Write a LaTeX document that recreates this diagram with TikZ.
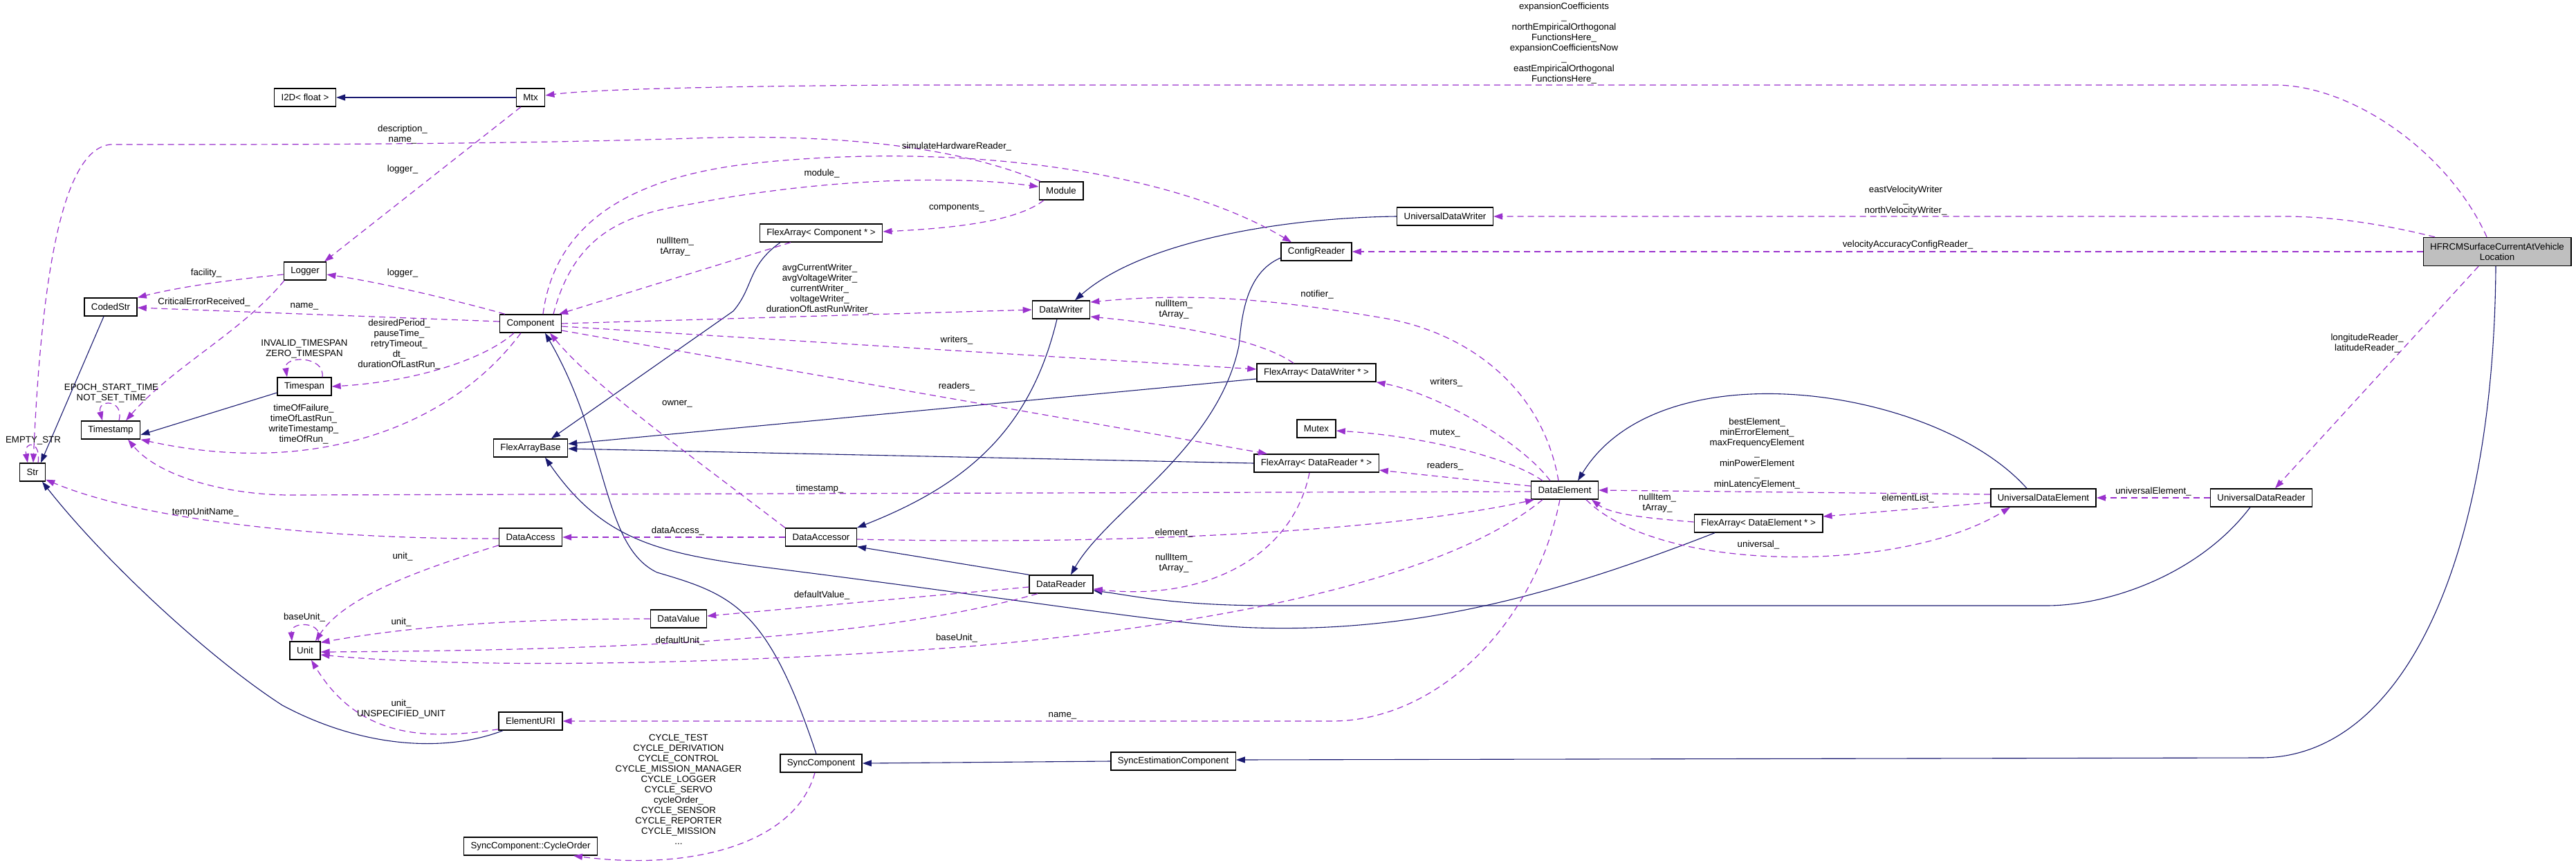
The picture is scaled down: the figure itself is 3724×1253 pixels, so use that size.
\documentclass[tikz,border=0pt]{standalone}
\usepackage{fontspec}
\setmainfont{Liberation Sans}
\usetikzlibrary{arrows.meta}
\definecolor{edgeblue}{HTML}{191970}
\definecolor{edgepurple}{HTML}{9A32CD}
\definecolor{boxgrey}{HTML}{BFBFBF}

\begin{document}
\begin{tikzpicture}[x=1pt, y=-1pt, font=\fontsize{13.3}{15}\selectfont,
  cls/.style={draw=black, line width=1.4pt, fill=white, minimum height=26pt,
              inner xsep=10pt, inner ysep=2pt, align=center},
  mlabel/.style={inner sep=0pt, align=center},
  inhline/.style={draw=edgeblue, line width=1.1pt, -{Triangle[length=13pt,width=9pt]}},
  memline/.style={draw=edgepurple, line width=1.2pt, dash pattern=on 9pt off 6pt,
                  -{Triangle[length=13pt,width=9pt]}}]
\path[fill=white, use as bounding box] (0,0) rectangle (3724,1253);

\node[cls, fill=boxgrey, minimum height=41pt] (hfrcm) at (3610,364) {HFRCMSurfaceCurrentAtVehicle\\Location};
\node[cls] (mtx) at (767,141) {Mtx};
\node[cls] (itwod) at (441,141) {I2D< float >};
\node[cls] (logger) at (441,392) {Logger};
\node[cls] (codedstr) at (160,444) {CodedStr};
\node[cls] (component) at (767,468) {Component};
\node[cls] (timespan) at (440,559) {Timespan};
\node[cls] (timestamp) at (160,622) {Timestamp};
\node[cls] (str) at (47,683) {Str};
\node[cls] (flexbase) at (767,648) {FlexArrayBase};
\node[cls] (dataaccess) at (767,777) {DataAccess};
\node[cls] (unit) at (441,941) {Unit};
\node[cls] (datavalue) at (981,895) {DataValue};
\node[cls] (elementuri) at (767,1043) {ElementURI};
\node[cls] (cycleorder) at (767,1224) {SyncComponent::CycleOrder};
\node[cls] (module) at (1534,276) {Module};
\node[cls] (facomp) at (1187,337) {FlexArray< Component * >};
\node[cls] (configreader) at (1903,364) {ConfigReader};
\node[cls] (datawriter) at (1534,448) {DataWriter};
\node[cls] (fawriter) at (1903,539) {FlexArray< DataWriter * >};
\node[cls] (mutex) at (1903,620) {Mutex};
\node[cls] (fareader) at (1903,670) {FlexArray< DataReader * >};
\node[cls] (dataaccessor) at (1187,777) {DataAccessor};
\node[cls] (datareader) at (1534,845) {DataReader};
\node[cls] (synccomp) at (1187,1104) {SyncComponent};
\node[cls] (syncest) at (1696,1101) {SyncEstimationComponent};
\node[cls] (uwriter) at (2089,313) {UniversalDataWriter};
\node[cls] (dataelement) at (2262,709) {DataElement};
\node[cls] (faelement) at (2542,757) {FlexArray< DataElement * >};
\node[cls] (uelement) at (2954,720) {UniversalDataElement};
\node[cls] (ureader) at (3269,720) {UniversalDataReader};

\draw[inhline] (mtx.west) -- (itwod.east);
\draw[inhline] ([xshift=-10pt]codedstr.south) -- ([xshift=12pt]str.north);
\draw[inhline] ([yshift=-9pt]timespan.west) -- ([yshift=-7pt]timestamp.east);
\draw[inhline] ([xshift=-59pt]facomp.south) .. controls (1080,385) and (1090,415) .. (1060,450) -- ([xshift=30pt]flexbase.north);
\draw[inhline] ([yshift=-9pt]fawriter.west) -- ([yshift=6pt]flexbase.east);
\draw[inhline] (fareader.west) -- ([yshift=-1pt]flexbase.east);
\draw[inhline] ([xshift=-40pt]elementuri.south) .. controls (640,1090) and (520,1080) .. (408,1020) .. controls (300,950) and (150,810) .. ([xshift=14pt]str.south);
\draw[inhline] ([xshift=-7pt]synccomp.north) .. controls (1110,880) and (1060,860) .. (950,828) .. controls (870,790) and (880,640) .. ([xshift=21pt]component.south);
\draw[inhline] ([xshift=-63pt]faelement.south) .. controls (2250,860) and (2050,915) .. (1816,908) .. controls (1700,905) and (1500,870) .. (1102,820) .. controls (950,800) and (870,780) .. ([xshift=21pt]flexbase.south);
\draw[inhline] ([xshift=-6pt]datawriter.south) .. controls (1490,620) and (1400,700) .. ([xshift=52pt]dataaccessor.north);
\draw[inhline] (datareader.north west) -- (dataaccessor.south east);
\draw[inhline] (uwriter.west) .. controls (1850,315) and (1650,350) .. ([xshift=20pt]datawriter.north);
\draw[inhline] ([yshift=-9pt]configreader.west) .. controls (1800,395) and (1795,460) .. (1791,500) .. controls (1760,650) and (1600,740) .. ([xshift=14pt]datareader.north);
\draw[inhline] ([xshift=-24pt]uelement.north) .. controls (2800,560) and (2400,500) .. ([xshift=19pt]dataelement.north);
\draw[inhline] ([xshift=-16pt]ureader.south) .. controls (3180,830) and (3050,876) .. (2958,876) -- (1840,876) .. controls (1700,876) and (1640,862) .. ([yshift=-9pt]datareader.east);
\draw[inhline] ([xshift=-2pt]hfrcm.south) .. controls (3605,820) and (3470,1096) .. (3268,1096) -- ([yshift=2pt]syncest.east);
\draw[inhline] (syncest.west) -- (synccomp.east);

\draw[memline] ([xshift=-15pt]hfrcm.north) .. controls (3540,220) and (3400,123) .. (3289,123) -- (1300,123) .. controls (1000,125) and (850,130) .. ([yshift=3pt]mtx.east);
\draw[memline] ([xshift=-90pt]hfrcm.north) .. controls (3420,318) and (3350,313) .. (3300,313) -- (uwriter.east);
\draw[memline] (hfrcm.west) -- (configreader.east);
\draw[memline] ([xshift=-27pt]hfrcm.south) -- ([xshift=20pt]ureader.north);
\draw[memline] (ureader.west) -- (uelement.east);
\draw[memline] ([yshift=5pt]uelement.west) -- (dataelement.east);
\draw[memline] ([yshift=-7pt]uelement.west) -- ([yshift=10pt]faelement.east);
\draw[memline] ([xshift=31pt]dataelement.south) .. controls (2400,830) and (2750,830) .. ([xshift=-48pt]uelement.south);
\draw[memline] ([yshift=2pt]faelement.west) .. controls (2390,750) and (2330,745) .. ([xshift=39pt]dataelement.south);
\draw[memline] ([xshift=-9pt]dataelement.north) .. controls (2230,560) and (2120,480) .. (2000,460) .. controls (1880,440) and (1750,420) .. ([yshift=11pt]datawriter.east);
\draw[memline] ([xshift=-33pt]fawriter.north) .. controls (1820,490) and (1700,470) .. ([yshift=-10pt]datawriter.east);
\draw[memline] ([xshift=-21pt]dataelement.north) .. controls (2200,640) and (2080,570) .. (fawriter.south east);
\draw[memline] ([xshift=-32pt]dataelement.north) .. controls (2180,660) and (2050,630) .. ([yshift=-3pt]mutex.east);
\draw[memline] ([yshift=6pt]dataelement.west) -- ([yshift=-10pt]fareader.east);
\draw[memline] ([yshift=-2pt]dataelement.west) -- (420,716) .. controls (330,716) and (230,690) .. ([xshift=25pt]timestamp.south);
\draw[memline] ([yshift=-3pt]dataaccessor.east) .. controls (1700,790) and (2050,760) .. ([xshift=-44pt]dataelement.south);
\draw[memline] ([xshift=-32pt]dataelement.south) .. controls (2100,830) and (1800,900) .. (1400,935) .. controls (1000,965) and (650,965) .. ([yshift=-6pt]unit.east);
\draw[memline] ([xshift=-7pt]dataelement.south) .. controls (2220,900) and (2080,1043) .. (1925,1043) -- (elementuri.east);
\draw[memline] ([yshift=-4pt]datareader.west) -- ([yshift=4pt]datavalue.east);
\draw[memline] ([xshift=-34pt]datareader.south) .. controls (1300,915) and (1000,940) .. ([yshift=-2pt]unit.east);
\draw[memline] (datavalue.west) .. controls (750,895) and (600,905) .. ([yshift=-2pt]unit.north east);
\draw[memline] ([yshift=2pt]dataaccess.south west) .. controls (620,820) and (500,860) .. ([xshift=15pt]unit.north);
\draw[memline] ([xshift=19pt]unit.north) .. controls (470,898) and (420,898) .. ([xshift=-19pt]unit.north);
\draw[memline] ([yshift=2pt]elementuri.south west) .. controls (620,1070) and (520,1070) .. ([xshift=9pt]unit.south);
\draw[memline] ([xshift=-9pt]synccomp.south) .. controls (1150,1220) and (1000,1260) .. ([xshift=62pt]cycleorder.south);
\draw[memline] (dataaccessor.west) -- (dataaccess.east);
\draw[memline] ([yshift=-2pt]dataaccess.west) .. controls (450,780) and (200,750) .. ([yshift=3pt]str.south east);
\draw[memline] (dataaccessor.north west) .. controls (1000,660) and (860,560) .. ([xshift=28pt]component.south);
\draw[memline] ([yshift=3pt]component.west) -- ([yshift=-1pt]codedstr.east);
\draw[memline] ([xshift=-37pt]component.north) .. controls (680,440) and (560,410) .. ([yshift=-5pt]logger.east);
\draw[memline] ([xshift=-24pt]component.south) .. controls (700,520) and (600,552) .. (timespan.east);
\draw[memline] ([xshift=-14pt]component.south) .. controls (650,620) and (450,690) .. (timestamp.south east);
\draw[memline] ([xshift=26pt]timespan.north) .. controls (470,514) and (410,514) .. ([xshift=-25pt]timespan.north);
\draw[memline] ([xshift=12pt]timestamp.north) .. controls (180,577) and (140,577) .. ([xshift=-12pt]timestamp.north);
\draw[memline] ([xshift=8pt]str.north) .. controls (60,637) and (34,637) .. ([xshift=-7pt]str.north);
\draw[memline] ([xshift=-30pt]module.north) .. controls (1380,210) and (1200,193) .. (1000,200) .. controls (700,210) and (300,209) .. (160,209) .. controls (90,215) and (60,400) .. ([xshift=1pt]str.north);
\draw[memline] ([xshift=18pt]component.north) .. controls (805,300) and (950,250) .. (1100,235) .. controls (1400,205) and (1700,250) .. ([xshift=-36pt]configreader.north);
\draw[memline] ([xshift=33pt]component.north) .. controls (830,340) and (900,310) .. (1000,295) .. controls (1150,265) and (1350,250) .. ([yshift=6pt]module.west);
\draw[memline] ([xshift=-25pt]module.south) .. controls (1470,320) and (1380,330) .. ([yshift=2pt]facomp.east);
\draw[memline] ([xshift=-44pt]facomp.south) -- ([xshift=41pt]component.north);
\draw[memline] (component.east) -- (datawriter.west);
\draw[memline] ([yshift=-4pt]component.east) -- ([yshift=5pt]fawriter.west);
\draw[memline] ([yshift=-10pt]component.east) -- ([xshift=-71pt]fareader.north);
\draw[memline] ([xshift=-10pt]fareader.south) .. controls (1870,800) and (1750,870) .. ([yshift=-7pt]datareader.east);
\draw[memline] ([yshift=-5pt]logger.west) .. controls (330,405) and (260,415) .. (codedstr.north east);
\draw[memline] ([xshift=-30pt]logger.south) .. controls (350,480) and (250,530) .. ([xshift=22pt]timestamp.north);
\draw[memline] ([xshift=-14pt]mtx.south) -- ([xshift=28pt]logger.north);

\node[mlabel] (lcoef) at (2261,63) {expansionCoefficients\\\_\\northEmpiricalOrthogonal\\FunctionsHere\_\\expansionCoefficientsNow\\\_\\eastEmpiricalOrthogonal\\FunctionsHere\_};
\node[mlabel] (lvelw) at (2755,290) {eastVelocityWriter\\\_\\northVelocityWriter\_};
\node[mlabel] (lvacc) at (2758,354) {velocityAccuracyConfigReader\_};
\node[mlabel] (llonlat) at (3422,496) {longitudeReader\_\\latitudeReader\_};
\node[mlabel] (luelem) at (3113,711) {universalElement\_};
\node[mlabel] (lbest) at (2540,656) {bestElement\_\\minErrorElement\_\\maxFrequencyElement\\\_\\minPowerElement\\\_\\minLatencyElement\_};
\node[mlabel] (lelist) at (2758,721) {elementList\_};
\node[mlabel] (luniv) at (2542,788) {universal\_};
\node[mlabel] (lnullde) at (2396,728) {nullItem\_\\tArray\_};
\node[mlabel] (lnotif) at (1904,426) {notifier\_};
\node[mlabel] (lnulldw) at (1697,448) {nullItem\_\\tArray\_};
\node[mlabel] (lwritde) at (2091,553) {writers\_};
\node[mlabel] (lmutex) at (2089,627) {mutex\_};
\node[mlabel] (lreadde) at (2089,674) {readers\_};
\node[mlabel] (ltstamp) at (1185,707) {timestamp\_};
\node[mlabel] (lelem) at (1697,771) {element\_};
\node[mlabel] (lbunit) at (1383,923) {baseUnit\_};
\node[mlabel] (lname) at (1536,1035) {name\_};
\node[mlabel] (ldval) at (1188,861) {defaultValue\_};
\node[mlabel] (ldunit) at (983,927) {defaultUnit\_};
\node[mlabel] (lunitv) at (580,900) {unit\_};
\node[mlabel] (lunita) at (582,805) {unit\_};
\node[mlabel] (lbunitself) at (440,893) {baseUnit\_};
\node[mlabel] (lunsp) at (580,1025) {unit\_\\UNSPECIFIED\_UNIT};
\node[mlabel] (lcycle) at (981,1142) {CYCLE\_TEST\\CYCLE\_DERIVATION\\CYCLE\_CONTROL\\CYCLE\_MISSION\_MANAGER\\CYCLE\_LOGGER\\CYCLE\_SERVO\\cycleOrder\_\\CYCLE\_SENSOR\\CYCLE\_REPORTER\\CYCLE\_MISSION\\...};
\node[mlabel] (ldacc) at (980,768) {dataAccess\_};
\node[mlabel] (ltemp) at (297,741) {tempUnitName\_};
\node[mlabel] (lowner) at (979,584) {owner\_};
\node[mlabel] (lnamec) at (440,443) {name\_};
\node[mlabel] (lloggerc) at (582,395) {logger\_};
\node[mlabel] (lperiod) at (577,498) {desiredPeriod\_\\pauseTime\_\\retryTimeout\_\\dt\_\\durationOfLastRun\_};
\node[mlabel] (ltimes) at (439,613) {timeOfFailure\_\\timeOfLastRun\_\\writeTimestamp\_\\timeOfRun\_};
\node[mlabel] (lspan) at (440,505) {INVALID\_TIMESPAN\\ZERO\_TIMESPAN};
\node[mlabel] (lepoch) at (161,569) {EPOCH\_START\_TIME\\NOT\_SET\_TIME};
\node[mlabel] (lempty) at (48,637) {EMPTY\_STR};
\node[mlabel] (ldesc) at (582,194) {description\_\\name\_};
\node[mlabel] (lsim) at (1383,212) {simulateHardwareReader\_};
\node[mlabel] (lmodule) at (1188,251) {module\_};
\node[mlabel] (lcomps) at (1383,301) {components\_};
\node[mlabel] (lnullc) at (976,357) {nullItem\_\\tArray\_};
\node[mlabel] (lavg) at (1185,418) {avgCurrentWriter\_\\avgVoltageWriter\_\\currentWriter\_\\voltageWriter\_\\durationOfLastRunWriter\_};
\node[mlabel] (lwritc) at (1383,492) {writers\_};
\node[mlabel] (lreadc) at (1383,559) {readers\_};
\node[mlabel] (lnulldr) at (1697,815) {nullItem\_\\tArray\_};
\node[mlabel] (lfac) at (298,395) {facility\_};
\node[mlabel] (lcrit) at (295,437) {CriticalErrorReceived\_};
\node[mlabel] (lloggerm) at (582,245) {logger\_};
\end{tikzpicture}
\end{document}
